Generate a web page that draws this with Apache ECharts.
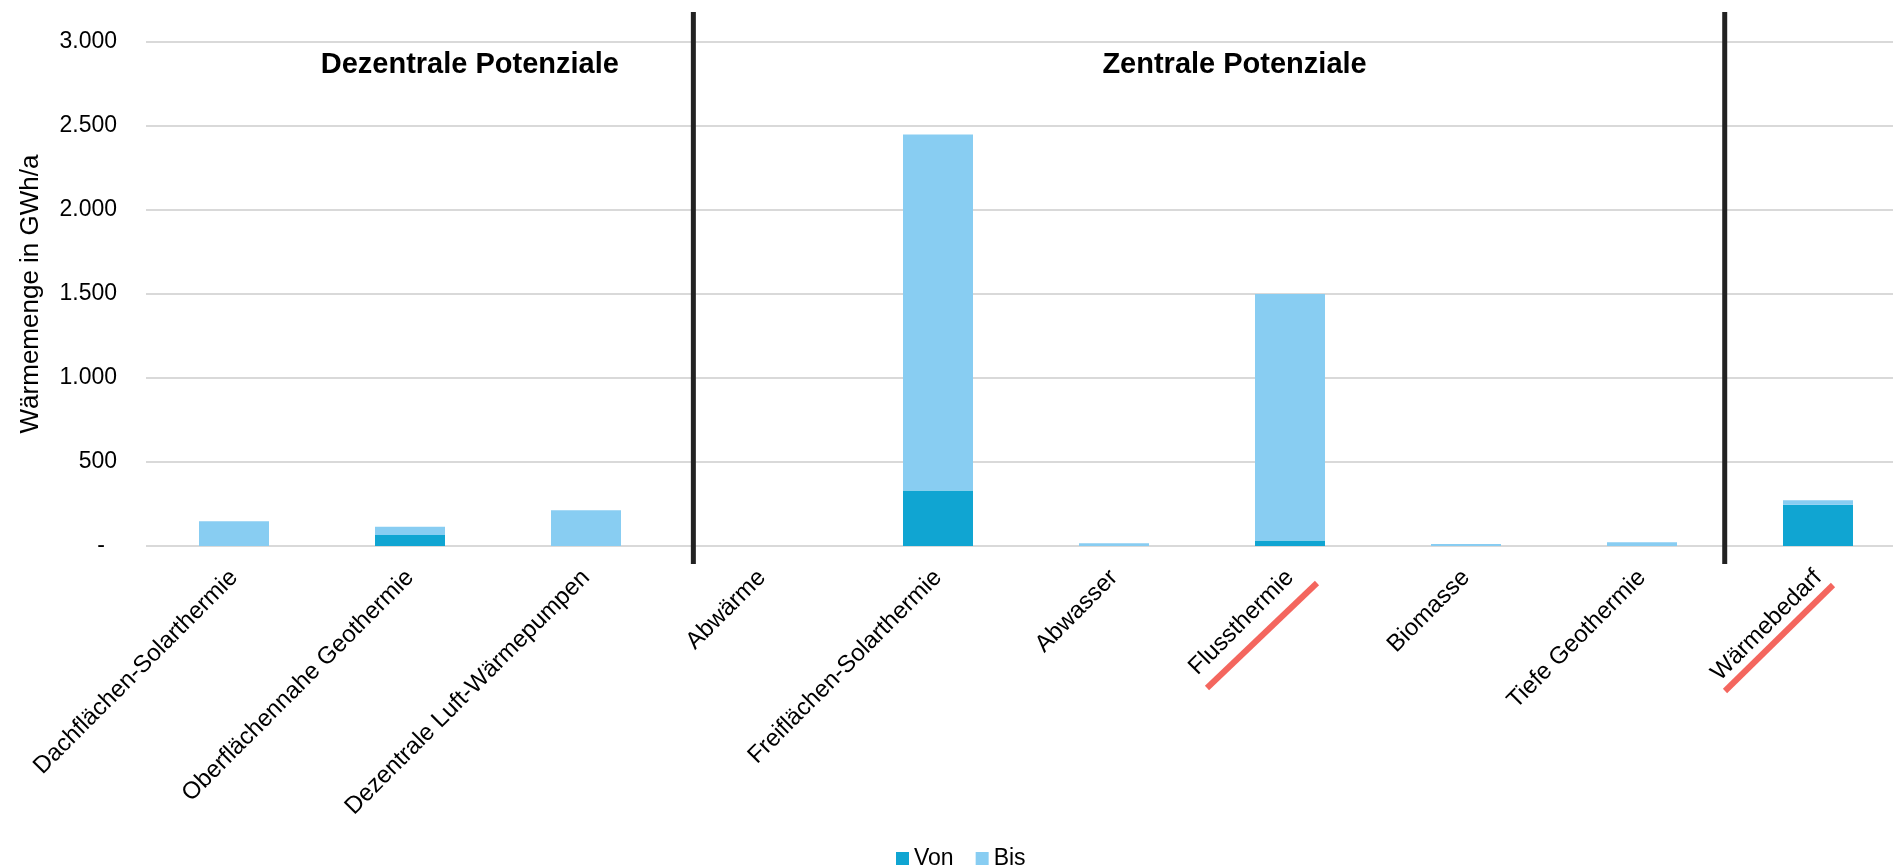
<!DOCTYPE html>
<html>
<head>
<meta charset="utf-8">
<script src="https://cdn.jsdelivr.net/npm/echarts@6/dist/echarts.min.js"></script>
<style>
  html, body { margin: 0; padding: 0; background: #ffffff; overflow: hidden; }
  /* the plot runs past the right edge of the window, as in the exported figure */
  #chart { width: 1920px; height: 866px; }
</style>
</head>
<body>
<div id="chart"></div>
<script>
// Wärmepotenziale: Spanne von/bis je Quelle, in GWh/a
const categories = [
  'Dachflächen-Solarthermie',
  'Oberflächennahe Geothermie',
  'Dezentrale Luft-Wärmepumpen',
  'Abwärme',
  'Freiflächen-Solarthermie',
  'Abwasser',
  'Flussthermie',
  'Biomasse',
  'Tiefe Geothermie',
  'Wärmebedarf'
];
const vonValues = [0, 65, 0, 0, 330, 0, 33, 0, 0, 245];
const bisValues = [147, 115, 213, 0, 2450, 17, 1500, 12, 22, 273];

// Group headings and separators, placed in category-index units
const groupTitles = ['Dezentrale Potenziale', 'Zentrale Potenziale'];
const groupTitleAt = [1.34, 5.685];
const dividerAt = [2.61, 8.47];

// Categories highlighted with a red stroke under the axis label
const highlighted = ['Flussthermie', 'Wärmebedarf'];
const highlightStroke = [
  { from: [-83, 142], to: [27, 37] },
  { from: [-93, 145], to: [15, 39] }
];

const FONT = '"Liberation Sans", Arial, Helvetica, sans-serif';
const DARK = '#10A5D2';
const LIGHT = '#88CDF2';

// the upper series is stacked on "Von", so it carries the remaining span
const bisSegment = bisValues.map((v, i) => v - vonValues[i]);

function thousands(v) {
  return String(v).replace(/\B(?=(\d{3})+(?!\d))/g, '.');
}

const chart = echarts.init(document.getElementById('chart'), null, { renderer: 'canvas' });

chart.setOption({
  animation: false,
  backgroundColor: '#ffffff',
  textStyle: { fontFamily: FONT },
  grid: { left: 146, top: 42, width: 1760, height: 504 },
  legend: {
    data: ['Von', 'Bis'],
    left: 891,
    top: 842,
    icon: 'rect',
    itemWidth: 13,
    itemHeight: 13,
    itemGap: 22,
    textStyle: { fontSize: 23, color: '#000000', fontFamily: FONT }
  },
  xAxis: {
    type: 'category',
    data: categories,
    axisLine: { show: false },
    axisTick: { show: false },
    axisLabel: {
      interval: 0,
      rotate: 45,
      margin: 28,
      fontSize: 24,
      color: '#000000',
      fontFamily: FONT
    }
  },
  yAxis: {
    type: 'value',
    min: 0,
    max: 3000,
    interval: 500,
    name: 'Wärmemenge in GWh/a',
    nameLocation: 'middle',
    nameGap: 102,
    nameTextStyle: { fontSize: 26, color: '#000000', fontFamily: FONT },
    axisLine: { show: false },
    axisTick: { show: false },
    axisLabel: {
      margin: 29,
      fontSize: 23,
      color: '#000000',
      fontFamily: FONT,
      formatter: v => (v === 0 ? '{z|-}' : thousands(v)),
      rich: { z: { fontSize: 23, color: '#000000', fontFamily: FONT, padding: [0, 12, 0, 0] } }
    },
    splitLine: { lineStyle: { color: '#D9D9D9', width: 2 } }
  },
  series: [
    {
      name: 'Von',
      type: 'bar',
      stack: 'range',
      data: vonValues,
      barWidth: 70,
      itemStyle: { color: DARK }
    },
    {
      name: 'Bis',
      type: 'bar',
      stack: 'range',
      data: bisSegment,
      barWidth: 70,
      itemStyle: { color: LIGHT }
    }
  ]
});

// Annotations positioned from the laid-out axes
const p0 = chart.convertToPixel({ gridIndex: 0 }, [0, 0]);
const p1 = chart.convertToPixel({ gridIndex: 0 }, [1, 0]);
const pTop = chart.convertToPixel({ gridIndex: 0 }, [0, 3000]);
const step = p1[0] - p0[0];
const baseY = p0[1];
const topY = pTop[1];
const catX = i => p0[0] + i * step;

const graphics = [];

dividerAt.forEach(pos => {
  const x = catX(pos);
  graphics.push({
    type: 'line',
    silent: true,
    shape: { x1: x, y1: topY - 30, x2: x, y2: baseY + 18 },
    style: { stroke: '#222222', lineWidth: 5 }
  });
});

groupTitles.forEach((t, k) => {
  graphics.push({
    type: 'text',
    silent: true,
    x: catX(groupTitleAt[k]),
    y: topY + 23,
    style: {
      text: t,
      fill: '#000000',
      font: 'bold 29px ' + FONT,
      align: 'center',
      verticalAlign: 'middle'
    }
  });
});

highlighted.forEach((name, k) => {
  const x = catX(categories.indexOf(name));
  const s = highlightStroke[k];
  graphics.push({
    type: 'line',
    silent: true,
    shape: {
      x1: x + s.from[0], y1: baseY + s.from[1],
      x2: x + s.to[0], y2: baseY + s.to[1]
    },
    style: { stroke: '#F4665E', lineWidth: 6 }
  });
});

chart.setOption({ graphic: graphics });
</script>
</body>
</html>
